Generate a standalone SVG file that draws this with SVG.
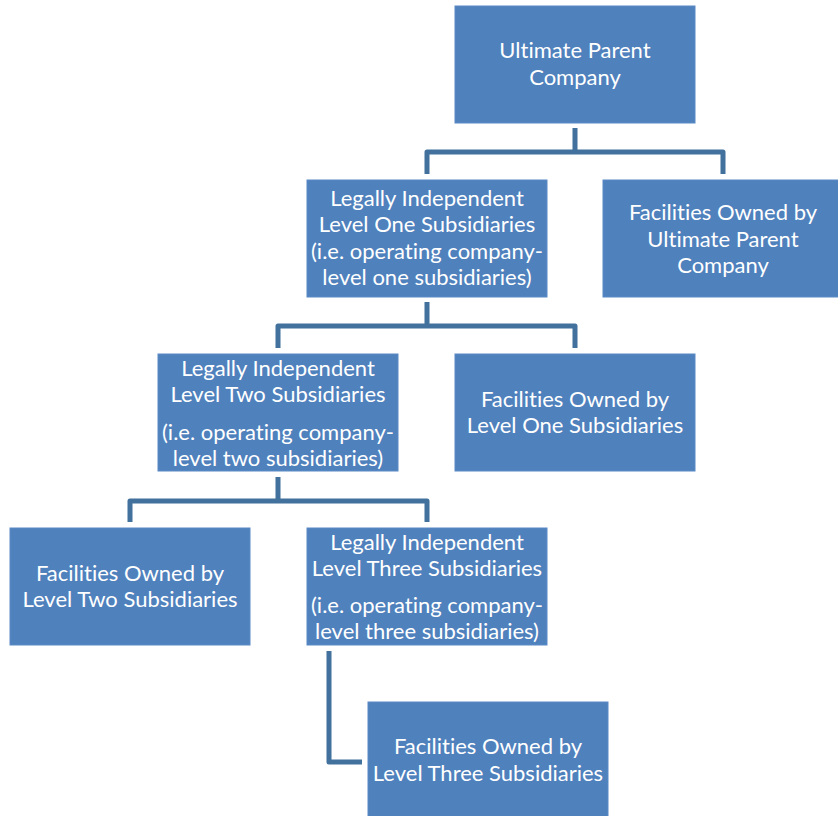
<svg xmlns="http://www.w3.org/2000/svg" width="838" height="816" viewBox="0 0 838 816">
<style>
.box{fill:#4f81bd;stroke:#5a8ac6;stroke-width:1}
.t{font-family:Lato,"Liberation Sans",sans-serif;font-size:22px;fill:#ffffff;text-anchor:middle;font-variant-ligatures:none}
.c{fill:none;stroke:#41719c;stroke-width:5;stroke-linejoin:round}
</style>
<rect width="838" height="816" fill="#ffffff"/>
<g id="connectors">
<path class="c" d="M575,128 V152 M427,174 V152 H723 V174"/>
<path class="c" d="M427,302 V326 M278,348 V326 H575 V348"/>
<path class="c" d="M278,477 V501 M130,522 V501 H427 V522"/>
<path class="c" d="M329,651 V762 H362"/>
</g>
<g id="n1"><rect class="box" x="455" y="6" width="240" height="117"/>
<text class="t" x="575" y="58">Ultimate Parent</text><text class="t" x="575" y="85">Company</text></g>
<g id="n2"><rect class="box" x="307" y="180" width="240" height="117"/>
<text class="t" x="427" y="206">Legally Independent</text><text class="t" x="427" y="232">Level One Subsidiaries</text><text class="t" x="427" y="259">(i.e. operating company-</text><text class="t" x="427" y="285">level one subsidiaries)</text></g>
<g id="n3"><rect class="box" x="603" y="180" width="240" height="117"/>
<text class="t" x="723" y="220">Facilities Owned by</text><text class="t" x="723" y="247">Ultimate Parent</text><text class="t" x="723" y="273">Company</text></g>
<g id="n4"><rect class="box" x="158" y="354" width="240" height="117"/>
<text class="t" x="278" y="376">Legally Independent</text><text class="t" x="278" y="402">Level Two Subsidiaries</text><text class="t" x="278" y="440">(i.e. operating company-</text><text class="t" x="278" y="466">level two subsidiaries)</text></g>
<g id="n5"><rect class="box" x="455" y="354" width="240" height="117"/>
<text class="t" x="575" y="407">Facilities Owned by</text><text class="t" x="575" y="433">Level One Subsidiaries</text></g>
<g id="n6"><rect class="box" x="10" y="528" width="240" height="117"/>
<text class="t" x="130" y="581">Facilities Owned by</text><text class="t" x="130" y="607">Level Two Subsidiaries</text></g>
<g id="n7"><rect class="box" x="307" y="528" width="240" height="117"/>
<text class="t" x="427" y="550">Legally Independent</text><text class="t" x="427" y="576">Level Three Subsidiaries</text><text class="t" x="427" y="613">(i.e. operating company-</text><text class="t" x="427" y="639">level three subsidiaries)</text></g>
<g id="n8"><rect class="box" x="368" y="702" width="240" height="117"/>
<text class="t" x="488" y="754">Facilities Owned by</text><text class="t" x="488" y="781">Level Three Subsidiaries</text></g>
</svg>
